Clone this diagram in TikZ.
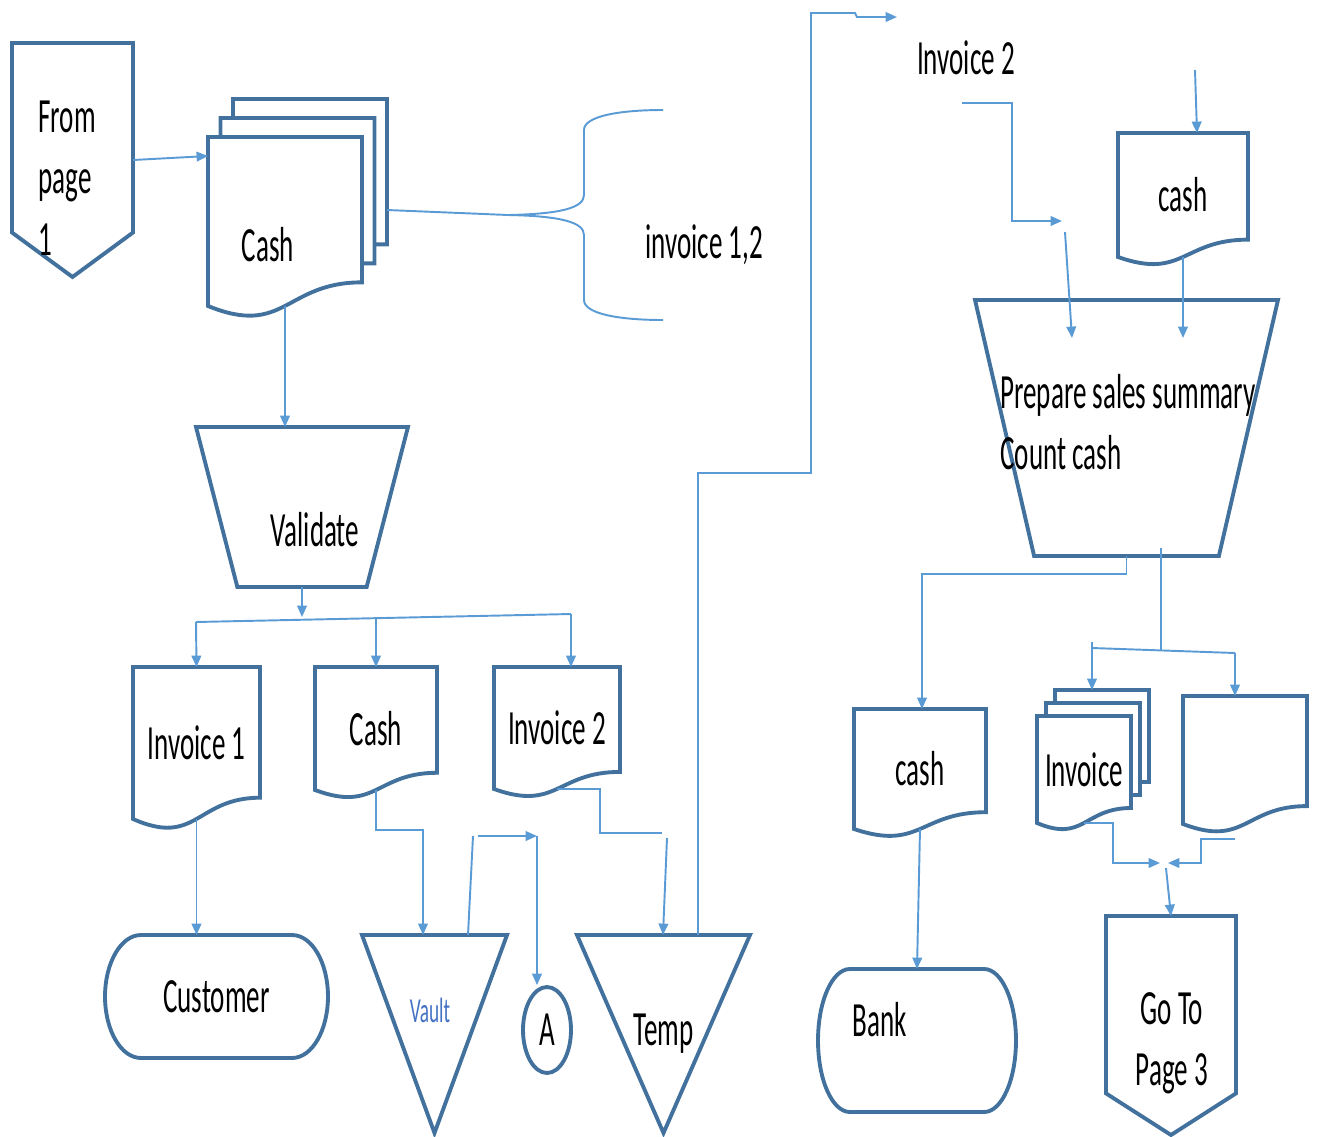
\documentclass[tikz,border=0pt]{standalone}
\usepackage{fontspec}
\setmainfont{Carlito}
\usepackage{graphicx}
\usepackage{tikz}
\usetikzlibrary{calc, shapes.geometric, arrows.meta}
\definecolor{shapeblue}{RGB}{65,113,156}
\definecolor{linkblue}{RGB}{91,155,213}
\definecolor{vaultblue}{RGB}{68,114,196}
\newcommand{\bigfont}{\fontsize{28}{35}\selectfont}
\newcommand{\sq}[1]{\scalebox{0.55}[1]{#1}}

\begin{document}
\begin{tikzpicture}[x=0.02cm, y=-0.02cm]
\tikzstyle{box} = [rectangle, inner sep=0pt, outer sep=0pt, font=\bigfont]
\tikzstyle{txt} = [inner sep=0pt, font=\bigfont]
\tikzstyle{outline} = [draw=shapeblue, line width=2.2pt]
\tikzstyle{link} = [draw=linkblue, line width=1.1pt]
\tikzstyle{flow} = [link, -{Triangle[length=6.5pt,width=5.5pt]}]
\tikzset{
  doc/.style={box, append after command={\pgfextra{\let\nd\tikzlastnode
    \draw[outline] (\nd.north west) -- (\nd.north east) -- ($(\nd.north east)!0.86!(\nd.south east)$)
      .. controls ($(\nd.north)!0.86!(\nd.south)$) and ($(\nd.north)!1.186!(\nd.south)$) .. (\nd.south west) -- cycle;}}},
  multidoc/.style 2 args={doc, append after command={\pgfextra{\let\nd\tikzlastnode
    \draw[outline] ([xshift=#1]\nd.north west) -- ++(0,#2) -- ([shift={(#1,#2)}]\nd.north east)
      -- ($(\nd.north east)!0.86!(\nd.south east)+(#1,#2)$) -- ++(-#1,0);
    \draw[outline] ([shift={(2*#1,#2)}]\nd.north west) -- ++(0,#2) -- ([shift={(2*#1,2*#2)}]\nd.north east)
      -- ($(\nd.north east)!0.86!(\nd.south east)+(2*#1,2*#2)$) -- ++(-#1,0);}}},
  manual/.style={box, append after command={\pgfextra{\let\nd\tikzlastnode
    \draw[outline] (\nd.north west) -- (\nd.north east) -- ($(\nd.south east)!0.195!(\nd.south west)$)
      -- ($(\nd.south west)!0.195!(\nd.south east)$) -- cycle;}}},
  store/.style={box, append after command={\pgfextra{\let\nd\tikzlastnode
    \draw[outline] (\nd.north west) -- (\nd.north east) -- (\nd.south) -- cycle;}}},
  offpage/.style={box, append after command={\pgfextra{\let\nd\tikzlastnode
    \draw[outline] (\nd.north west) -- (\nd.north east) -- ($(\nd.north east)!0.81!(\nd.south east)$)
      -- (\nd.south) -- ($(\nd.north west)!0.81!(\nd.south west)$) -- cycle;}}},
  term/.style={box, append after command={\pgfextra{\let\nd\tikzlastnode
    \draw[outline] ($(\nd.north west)!0.161!(\nd.north east)$) -- ($(\nd.north east)!0.161!(\nd.north west)$)
      .. controls ($(\nd.north east)!0.072!(\nd.north west)$) and ($(\nd.east)!0.552!(\nd.north east)$) .. (\nd.east)
      .. controls ($(\nd.east)!0.552!(\nd.south east)$) and ($(\nd.south east)!0.072!(\nd.south west)$) .. ($(\nd.south east)!0.161!(\nd.south west)$)
      -- ($(\nd.south west)!0.161!(\nd.south east)$)
      .. controls ($(\nd.south west)!0.072!(\nd.south east)$) and ($(\nd.west)!0.552!(\nd.south west)$) .. (\nd.west)
      .. controls ($(\nd.west)!0.552!(\nd.north west)$) and ($(\nd.north west)!0.072!(\nd.north east)$) .. ($(\nd.north west)!0.161!(\nd.north east)$)
      -- cycle;}}}
}
\useasboundingbox (0,0) rectangle (1320,1137);

% left half
\node[offpage, minimum width=2.42cm, minimum height=4.68cm] (from) at (72.5,160) {};
\node[txt, align=left, anchor=west] (fromtxt) at (38,178) {\sq{From}\\\sq{page}\\\sq{1}};
\node[multidoc={0.25cm}{0.38cm}, minimum width=3.08cm, minimum height=3.38cm] (cashm) at (285,221.5) {};
\node[txt] (cashmtxt) at (268,245) {\sq{Cash}};
\coordinate (brace) at (508,215);
\node[txt] (bracetxt) at (704,245) {\sq{invoice 1,2}};
\node[manual, minimum width=4.24cm, minimum height=3.2cm] (val) at (302,507) {};
\node[txt] (valtxt) at (315,530) {\sq{Validate}};
\node[doc, minimum width=2.54cm, minimum height=3.04cm] (inv1) at (196.5,743) {\sq{Invoice 1}};
\node[doc, minimum width=2.44cm, minimum height=2.46cm] (cash2) at (376,728.5) {\sq{Cash}};
\node[doc, minimum width=2.52cm, minimum height=2.44cm] (inv2) at (557,728) {\sq{Invoice 2}};
\node[term, minimum width=4.46cm, minimum height=2.46cm] (cust) at (216.5,996.5) {\sq{Customer}};
\node[store, minimum width=2.9cm, minimum height=3.96cm] (vault) at (434.5,1034) {};
\node[txt, text=vaultblue, font=\fontsize{20}{24}\selectfont] (vaulttxt) at (430,1010) {\sq{Vault}};
\node[ellipse, outline, inner sep=0pt, minimum width=0.96cm, minimum height=1.72cm, font=\bigfont] (anode) at (547,1030) {\sq{A}};
\node[store, minimum width=3.46cm, minimum height=3.96cm] (temp) at (663.5,1034) {\sq{Temp}};

% right half
\node[txt] (inv2lbl) at (966,58) {\sq{Invoice 2}};
\node[doc, minimum width=2.6cm, minimum height=2.48cm] (cashtr) at (1183,195) {\sq{cash}};
\node[manual, minimum width=6.06cm, minimum height=5.12cm] (prep) at (1126.5,428) {};
\node[txt, align=left, anchor=west] (preptxt) at (1000,422) {\sq{Prepare sales summary}\\\sq{Count cash}};
\node[doc, minimum width=2.64cm, minimum height=2.4cm] (cashb) at (920,769) {\sq{cash}};
\node[multidoc={0.18cm}{0.26cm}, minimum width=1.88cm, minimum height=2.14cm] (invm) at (1084,769.5) {\sq{Invoice}};
\node[doc, minimum width=2.48cm, minimum height=2.56cm] (blank) at (1245,760) {};
\node[term, minimum width=3.96cm, minimum height=2.86cm] (bank) at (917,1040.5) {};
\node[txt] (banktxt) at (880,1020) {\sq{Bank}};
\node[offpage, minimum width=2.6cm, minimum height=4.38cm] (goto) at (1171,1025.5) {};
\node[txt, align=center] (gototxt) at (1172,1043) {\sq{Go To}\\\sq{Page 3}};

\draw[flow] (from.east) -- (cashm.west |- 0,156);
\draw[link] (387,210) -- (brace);
\draw[link] (brace) .. controls (560,214) and (584,208) .. (584,195) -- (584,130) .. controls (584,116) and (620,110) .. (663,110);
\draw[link] (brace) .. controls (560,216) and (584,222) .. (584,235) -- (584,300) .. controls (584,314) and (620,320) .. (663,320);
\draw[flow] (cashm.south) -- (cashm.south |- val.north);
\draw[flow] (val.south) -- (302,617);
\draw[link] (196,622) -- (571,614);
\draw[flow] (196,622) -- (inv1.north);
\draw[flow] (376,618) -- (cash2.north);
\draw[flow] (571,614) -- (571,0 |- inv2.north);
\draw[flow] (inv1.south) -- (inv1.south |- cust.north);
\draw[flow] (cash2.south) |- (423,830) -- (423,0 |- vault.north);
\draw[link] (468,0 |- vault.north) -- (473,836);
\draw[flow] (478,836) -- (537,836);
\draw[flow] (537,836) -- (537,0 |- anode.north);
\draw[link] (inv2.south) -| (600,833) -- (662,833);
\draw[flow] (667,838) -- (663,0 |- temp.north);
\draw[flow] (698,0 |- temp.north) |- (811,473) |- (855,13) -- (857,17) -- (897,17);
\draw[flow] (962,103) -| (1012,221) -- (1062,221);
\draw[flow] (1065,232) -- (1072,338);
\draw[flow] (1195,70) -- (1197,0 |- cashtr.north);
\draw[flow] (cashtr.south) -- (cashtr.south |- 0,338);
\draw[flow] (prep.south) |- (922,574) -- (922,0 |- cashb.north);
\draw[link] (1161,548) -- (1161,651);
\draw[link] (1092,648) -- (1235,653);
\draw[flow] (1092,642) -- (1092,690);
\draw[flow] (1235,653) -- (1235,0 |- blank.north);
\draw[flow] (cashb.south) -- (bank.north);
\draw[flow] (invm.south) -| (1113,863) -- (1160,863);
\draw[flow] (1235,839) -| (1201,863) -- (1168,863);
\draw[flow] (1166,868) -- (goto.north);
\end{tikzpicture}
\end{document}
